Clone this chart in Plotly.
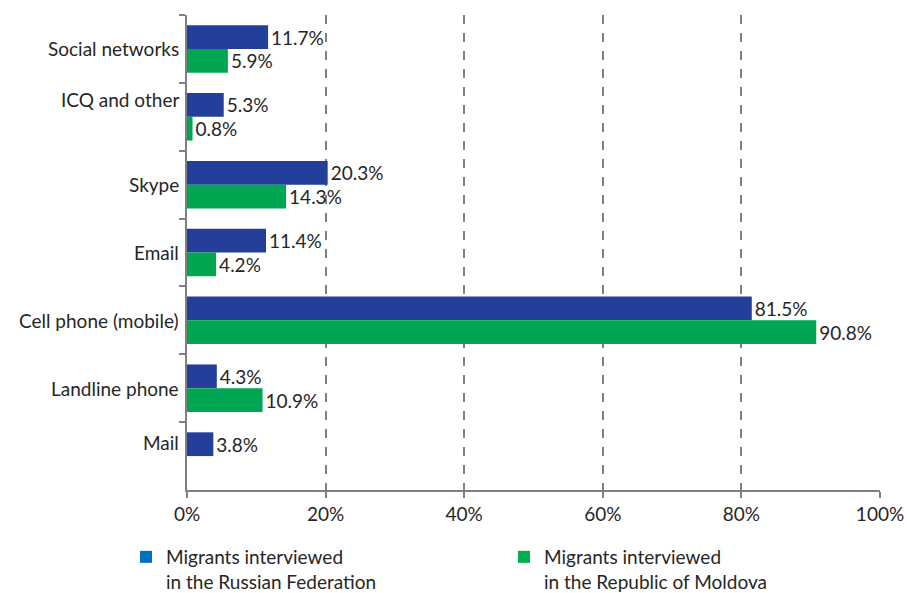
import plotly.graph_objects as go

categories = ["Social networks", "ICQ and other", "Skype", "Email",
              "Cell phone (mobile)", "Landline phone", "Mail"]
russia = [11.7, 5.3, 20.3, 11.4, 81.5, 4.3, 3.8]
moldova = [5.9, 0.8, 14.3, 4.2, 90.8, 10.9, None]
series_names = ["Migrants interviewed<br>in the Russian Federation",
                "Migrants interviewed<br>in the Republic of Moldova"]
x_ticks = [0, 20, 40, 60, 80, 100]

BLUE_BAR = "#233f99"
GREEN_BAR = "#00a651"
BLUE_LEG = "#0070c0"
GREEN_LEG = "#00b050"
TEXT = "#262626"
FONT = "Lato"
FS = 19
label_yshift = {"ICQ and other": 17, "Mail": 14}

def fmt(v):
    return "" if v is None else f"{v:.1f}%"

fig = go.Figure()
for vals, col in ((russia, BLUE_BAR), (moldova, GREEN_BAR)):
    fig.add_trace(go.Bar(
        y=categories, x=vals, orientation="h",
        marker=dict(color=col, line=dict(width=0)),
        text=[fmt(v) for v in vals], textposition="outside",
        textfont=dict(family=FONT, size=FS, color=TEXT),
        cliponaxis=False, showlegend=False, hoverinfo="skip"))

for name, col, lg in zip(series_names, (BLUE_LEG, GREEN_LEG), ("legend", "legend2")):
    fig.add_trace(go.Scatter(
        x=[None], y=[None], mode="markers", name=name, legend=lg,
        showlegend=True,
        marker=dict(symbol="square", size=12, color=col)))

for c in categories:
    fig.add_annotation(
        x=0, y=c, xref="x", yref="y", text=c, showarrow=False,
        xanchor="right", yanchor="middle", xshift=-6,
        yshift=label_yshift.get(c, 0),
        font=dict(family=FONT, size=FS, color=TEXT))

legend_style = dict(orientation="h", xref="container", yref="container",
                    xanchor="left", y=1 - 538 / 593, yanchor="top",
                    valign="top",
                    font=dict(family=FONT, size=FS, color=TEXT),
                    itemsizing="constant", bgcolor="rgba(0,0,0,0)")

fig.update_layout(
    width=907, height=593,
    margin=dict(l=187, r=27, t=15, b=103, autoexpand=False),
    paper_bgcolor="white", plot_bgcolor="white",
    barmode="group", bargap=0.3, bargroupgap=0,
    font=dict(family=FONT, size=FS, color=TEXT),
    legend=dict(x=126 / 907, **legend_style),
    legend2=dict(x=504 / 907, **legend_style),
    xaxis=dict(range=[0, 100], tickvals=x_ticks,
               ticktext=[f"{t}%" for t in x_ticks],
               showgrid=True, gridcolor="#808080", griddash="dash",
               gridwidth=1.5, showline=True, linecolor="#808080",
               linewidth=2, ticks="outside", ticklen=6, tickwidth=2,
               tickcolor="#808080", zeroline=False,
               tickfont=dict(family=FONT, size=FS, color=TEXT)),
    yaxis=dict(categoryorder="array", categoryarray=categories,
               autorange="reversed", showticklabels=False,
               showline=True, linecolor="#808080", linewidth=2,
               ticks="outside", tickson="boundaries", ticklen=6,
               tickwidth=2, tickcolor="#808080", showgrid=False),
)

fig.write_html("out.html", config={"displayModeBar": False},
               post_script="document.body.style.margin='0px';"
                           "document.body.style.overflow='hidden';")
